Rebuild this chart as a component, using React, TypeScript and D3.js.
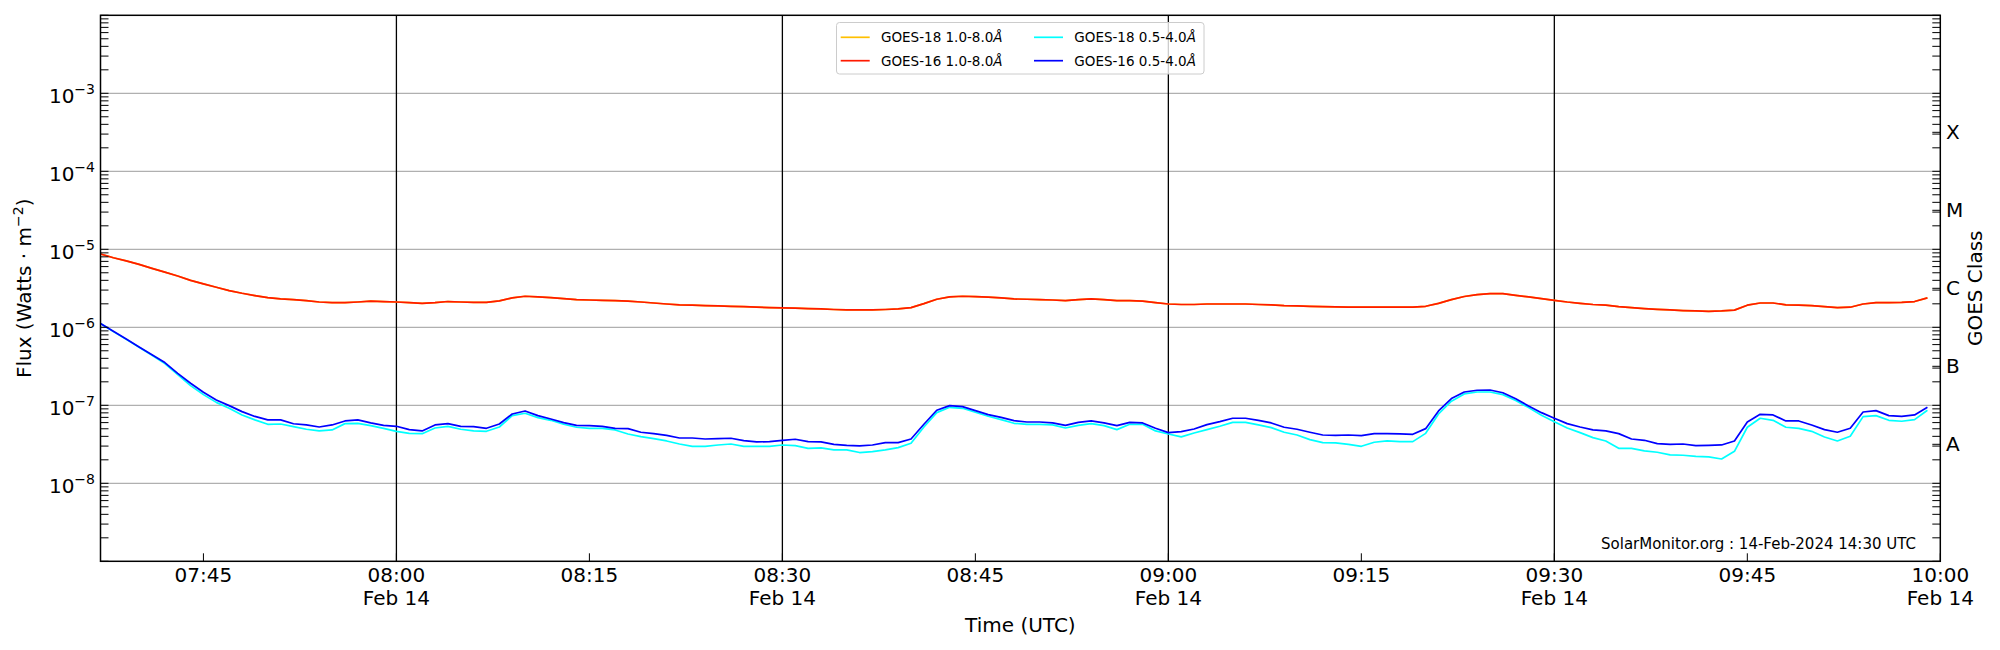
import * as d3 from "d3";

// one reading per minute, starting 07:37 UTC
const startTime = new Date(Date.UTC(2024, 1, 14, 7, 37));
const endTime = new Date(Date.UTC(2024, 1, 14, 10, 0));

const goes16Long = [
  8.7e-6, 7.8e-6, 7.1e-6, 6.4e-6, 5.7e-6, 5.1e-6, 4.55e-6, 4.0e-6, 3.6e-6, 3.26e-6,
  2.95e-6, 2.73e-6, 2.55e-6, 2.4e-6, 2.31e-6, 2.26e-6, 2.2e-6, 2.11e-6, 2.07e-6, 2.07e-6,
  2.11e-6, 2.16e-6, 2.14e-6, 2.11e-6, 2.07e-6, 2.03e-6, 2.07e-6, 2.14e-6, 2.11e-6, 2.09e-6,
  2.09e-6, 2.18e-6, 2.38e-6, 2.5e-6, 2.45e-6, 2.4e-6, 2.33e-6, 2.26e-6, 2.24e-6, 2.22e-6,
  2.2e-6, 2.16e-6, 2.11e-6, 2.05e-6, 1.99e-6, 1.94e-6, 1.92e-6, 1.9e-6, 1.88e-6, 1.86e-6,
  1.84e-6, 1.81e-6, 1.79e-6, 1.77e-6, 1.76e-6, 1.74e-6, 1.72e-6, 1.69e-6, 1.67e-6, 1.67e-6,
  1.67e-6, 1.69e-6, 1.72e-6, 1.79e-6, 2.01e-6, 2.29e-6, 2.45e-6, 2.5e-6, 2.48e-6, 2.43e-6,
  2.38e-6, 2.31e-6, 2.29e-6, 2.26e-6, 2.24e-6, 2.2e-6, 2.26e-6, 2.31e-6, 2.26e-6, 2.2e-6,
  2.2e-6, 2.16e-6, 2.07e-6, 1.99e-6, 1.96e-6, 1.96e-6, 1.99e-6, 1.99e-6, 1.99e-6, 1.99e-6,
  1.96e-6, 1.94e-6, 1.9e-6, 1.88e-6, 1.86e-6, 1.84e-6, 1.83e-6, 1.81e-6, 1.81e-6, 1.81e-6,
  1.81e-6, 1.81e-6, 1.81e-6, 1.86e-6, 2.03e-6, 2.26e-6, 2.48e-6, 2.62e-6, 2.7e-6, 2.7e-6,
  2.57e-6, 2.45e-6, 2.33e-6, 2.22e-6, 2.11e-6, 2.03e-6, 1.96e-6, 1.92e-6, 1.84e-6, 1.79e-6,
  1.74e-6, 1.7e-6, 1.67e-6, 1.64e-6, 1.62e-6, 1.6e-6, 1.62e-6, 1.66e-6, 1.92e-6, 2.05e-6,
  2.05e-6, 1.94e-6, 1.92e-6, 1.9e-6, 1.84e-6, 1.79e-6, 1.81e-6, 1.99e-6, 2.07e-6, 2.07e-6,
  2.09e-6, 2.14e-6, 2.38e-6,
];

// GOES-18 long channel sits right under the GOES-16 one
const goes18Long = goes16Long;

const goes16Short = [
  1.12e-6, 8.9e-7, 7.1e-7, 5.6e-7, 4.46e-7, 3.53e-7, 2.57e-7, 1.92e-7, 1.47e-7, 1.17e-7,
  9.9e-8, 8.3e-8, 7.2e-8, 6.5e-8, 6.5e-8, 5.8e-8, 5.6e-8, 5.27e-8, 5.6e-8, 6.3e-8,
  6.5e-8, 5.94e-8, 5.54e-8, 5.38e-8, 4.88e-8, 4.69e-8, 5.6e-8, 5.82e-8, 5.38e-8, 5.33e-8,
  5.07e-8, 5.76e-8, 7.74e-8, 8.46e-8, 7.37e-8, 6.68e-8, 6.0e-8, 5.54e-8, 5.49e-8, 5.38e-8,
  5.07e-8, 5.02e-8, 4.51e-8, 4.33e-8, 4.12e-8, 3.81e-8, 3.81e-8, 3.7e-8, 3.74e-8, 3.78e-8,
  3.53e-8, 3.39e-8, 3.42e-8, 3.56e-8, 3.67e-8, 3.42e-8, 3.39e-8, 3.16e-8, 3.07e-8, 3.01e-8,
  3.1e-8, 3.32e-8, 3.32e-8, 3.7e-8, 5.71e-8, 8.63e-8, 9.9e-8, 9.6e-8, 8.55e-8, 7.6e-8,
  7.0e-8, 6.36e-8, 6.11e-8, 6.11e-8, 5.94e-8, 5.54e-8, 6.05e-8, 6.3e-8, 5.94e-8, 5.49e-8,
  6.05e-8, 5.94e-8, 5.07e-8, 4.46e-8, 4.6e-8, 4.97e-8, 5.65e-8, 6.17e-8, 6.82e-8, 6.82e-8,
  6.42e-8, 5.94e-8, 5.23e-8, 4.93e-8, 4.51e-8, 4.16e-8, 4.12e-8, 4.16e-8, 4.08e-8, 4.33e-8,
  4.33e-8, 4.29e-8, 4.25e-8, 5.02e-8, 8.46e-8, 1.22e-7, 1.48e-7, 1.56e-7, 1.57e-7, 1.45e-7,
  1.21e-7, 9.8e-8, 8.05e-8, 6.82e-8, 5.82e-8, 5.27e-8, 4.83e-8, 4.69e-8, 4.33e-8, 3.7e-8,
  3.56e-8, 3.22e-8, 3.16e-8, 3.19e-8, 3.04e-8, 3.07e-8, 3.1e-8, 3.49e-8, 6.11e-8, 7.66e-8,
  7.52e-8, 6.3e-8, 6.3e-8, 5.6e-8, 4.88e-8, 4.51e-8, 5.07e-8, 8.21e-8, 8.55e-8, 7.37e-8,
  7.23e-8, 7.52e-8, 9.43e-8,
];

const goes18Short = [
  1.12e-6, 8.8e-7, 7.0e-7, 5.54e-7, 4.37e-7, 3.42e-7, 2.48e-7, 1.79e-7, 1.37e-7, 1.09e-7,
  9.15e-8, 7.52e-8, 6.5e-8, 5.71e-8, 5.76e-8, 5.33e-8, 4.93e-8, 4.69e-8, 4.83e-8, 5.82e-8,
  5.88e-8, 5.49e-8, 5.07e-8, 4.64e-8, 4.37e-8, 4.33e-8, 5.12e-8, 5.38e-8, 4.93e-8, 4.69e-8,
  4.64e-8, 5.27e-8, 7.37e-8, 7.9e-8, 6.95e-8, 6.42e-8, 5.71e-8, 5.23e-8, 5.07e-8, 5.07e-8,
  4.83e-8, 4.29e-8, 3.97e-8, 3.74e-8, 3.49e-8, 3.19e-8, 2.98e-8, 2.98e-8, 3.1e-8, 3.19e-8,
  2.98e-8, 2.98e-8, 2.98e-8, 3.1e-8, 3.04e-8, 2.81e-8, 2.84e-8, 2.68e-8, 2.68e-8, 2.48e-8,
  2.55e-8, 2.68e-8, 2.87e-8, 3.26e-8, 5.27e-8, 8.05e-8, 9.43e-8, 9.15e-8, 8.13e-8, 7.23e-8,
  6.55e-8, 5.88e-8, 5.71e-8, 5.71e-8, 5.6e-8, 5.12e-8, 5.54e-8, 5.82e-8, 5.49e-8, 4.88e-8,
  5.71e-8, 5.71e-8, 4.69e-8, 4.29e-8, 3.93e-8, 4.42e-8, 4.88e-8, 5.38e-8, 6.05e-8, 6.05e-8,
  5.6e-8, 5.17e-8, 4.51e-8, 4.16e-8, 3.63e-8, 3.32e-8, 3.29e-8, 3.16e-8, 2.98e-8, 3.36e-8,
  3.49e-8, 3.42e-8, 3.42e-8, 4.37e-8, 7.74e-8, 1.13e-7, 1.4e-7, 1.48e-7, 1.48e-7, 1.37e-7,
  1.15e-7, 9.34e-8, 7.44e-8, 6.17e-8, 5.12e-8, 4.46e-8, 3.85e-8, 3.49e-8, 2.81e-8, 2.81e-8,
  2.6e-8, 2.5e-8, 2.31e-8, 2.29e-8, 2.22e-8, 2.18e-8, 2.05e-8, 2.57e-8, 5.23e-8, 6.82e-8,
  6.42e-8, 5.23e-8, 5.07e-8, 4.64e-8, 3.93e-8, 3.49e-8, 4.01e-8, 7.16e-8, 7.37e-8, 6.42e-8,
  6.24e-8, 6.55e-8, 8.63e-8,
];

const xTickLabels = ["07:45", "08:00", "08:15", "08:30", "08:45", "09:00", "09:15", "09:30", "09:45", "10:00"];
const dayLines = ["08:00", "08:30", "09:00", "09:30"];
const yTickExponents = [-8, -7, -6, -5, -4, -3];
const goesClasses = ["A", "B", "C", "M", "X"];

const series = [
  { name: "GOES-18 1.0-8.0", values: goes18Long, color: "#ffc000" },
  { name: "GOES-18 0.5-4.0", values: goes18Short, color: "#00ffff" },
  { name: "GOES-16 1.0-8.0", values: goes16Long, color: "#ff1a00" },
  { name: "GOES-16 0.5-4.0", values: goes16Short, color: "#0000ff" },
];
const legendOrder = [0, 1, 2, 3]; // column-major: 18 long, 16 long | 18 short, 16 short

const width = 2000;
const height = 650;
const left = 100.5;
const right = 1940.3;
const top = 15.3;
const bottom = 561.3;
const font = "DejaVu Sans, sans-serif";

const atTime = (hhmm: string) => {
  const [h, m] = hhmm.split(":").map(Number);
  return new Date(Date.UTC(2024, 1, 14, h, m));
};

const App = () => {
  const x = d3.scaleUtc([startTime, endTime], [left, right]);
  const y = d3.scaleLog([1e-9, 1e-2], [bottom, top]);
  const time = (i: number) => d3.utcMinute.offset(startTime, i);
  const line = d3.line<number>((d, i) => x(time(i)), (d) => y(d));

  const minors: number[] = [];
  for (let e = -9; e < -2; e++) {
    for (let k = 2; k <= 9; k++) minors.push(k * Math.pow(10, e));
  }
  const decades = d3.range(-9, -1).map((e) => Math.pow(10, e));
  const classPos = goesClasses.map((c, i) => Math.pow(10, -7.5 + i));

  return (
    <svg
      width={width}
      height={height}
      style={{ position: "absolute", left: 0, top: 0, background: "white" }}
      fontFamily={font}
    >
      <rect width={width} height={height} fill="white" />
      {/* horizontal grid */}
      <g stroke="#b0b0b0" strokeWidth={1.3}>
        {yTickExponents.map((e) => (
          <line key={e} x1={left} x2={right} y1={y(Math.pow(10, e))} y2={y(Math.pow(10, e))} />
        ))}
      </g>
      {/* day / half-hour marker lines */}
      <g stroke="black" strokeWidth={1.3}>
        {dayLines.map((t) => (
          <line key={t} x1={x(atTime(t))} x2={x(atTime(t))} y1={top} y2={bottom} />
        ))}
      </g>

      <g fill="none" strokeWidth={1.7} strokeLinejoin="round">
        {series.map((s) => (
          <path key={s.name} d={line(s.values)!} stroke={s.color} />
        ))}
      </g>

      {/* ticks */}
      <g stroke="black" strokeWidth={1}>
        {decades.concat(minors).map((v, i) => (
          <g key={i}>
            <line x1={left} x2={left + 8} y1={y(v)} y2={y(v)} />
            <line x1={right} x2={right - 8} y1={y(v)} y2={y(v)} />
          </g>
        ))}
        {classPos.map((v, i) => (
          <line key={"c" + i} x1={right} x2={right - 8} y1={y(v)} y2={y(v)} />
        ))}
        {xTickLabels.map((t) => (
          <line key={t} x1={x(atTime(t))} x2={x(atTime(t))} y1={bottom} y2={bottom - 8} />
        ))}
      </g>

      <rect x={left} y={top} width={right - left} height={bottom - top} fill="none" stroke="black" strokeWidth={1.5} />

      {/* y tick labels */}
      <g fontSize={20} textAnchor="end">
        {yTickExponents.map((e) => (
          <text key={e} x={95} y={y(Math.pow(10, e)) + 10}>
            10<tspan dy={-9} fontSize={14}>{"\u2212" + Math.abs(e)}</tspan>
          </text>
        ))}
      </g>

      {/* x tick labels */}
      <g fontSize={20} textAnchor="middle">
        {xTickLabels.map((t) => (
          <text key={t} x={x(atTime(t))} y={582}>
            {t}
            {t.endsWith(":00") || t.endsWith(":30") ? (
              <tspan x={x(atTime(t))} y={605}>Feb 14</tspan>
            ) : null}
          </text>
        ))}
      </g>

      {/* GOES class labels */}
      <g fontSize={20}>
        {goesClasses.map((c, i) => (
          <text key={c} x={1946} y={y(classPos[i]) + 7}>{c}</text>
        ))}
      </g>

      <text fontSize={20} textAnchor="middle" x={(left + right) / 2} y={632}>Time (UTC)</text>
      <text fontSize={20} textAnchor="middle" transform={`translate(31,${(top + bottom) / 2}) rotate(-90)`}>
        Flux (Watts · m<tspan dy={-8} fontSize={14}>{"\u22122"}</tspan><tspan dy={8}>)</tspan>
      </text>
      <text fontSize={20} textAnchor="middle" transform={`translate(1982,${(top + bottom) / 2}) rotate(-90)`}>
        GOES Class
      </text>

      <text fontSize={15} textAnchor="end" x={1916} y={549}>
        SolarMonitor.org : 14-Feb-2024 14:30 UTC
      </text>

      {/* legend */}
      <g>
        <rect x={836.5} y={22.5} width={367.5} height={51.5} rx={3} fill="white" fillOpacity={0.8} stroke="#cccccc" />
        {legendOrder.map((idx, j) => {
          const s = series[idx];
          const col = j < 2 ? 0 : 1;
          const row = j % 2;
          const colX = [840.7, 1034][col];
          const rowY = [37.3, 60.7][row];
          const item = j === 1 ? series[2] : j === 2 ? series[1] : s;
          return (
            <g key={item.name}>
              <line x1={colX} x2={colX + 29} y1={rowY} y2={rowY} stroke={item.color} strokeWidth={1.7} />
              <text x={colX + 40.3} y={rowY + 5} fontSize={13.5}>
                {item.name}
                <tspan fontStyle="italic">Å</tspan>
              </text>
            </g>
          );
        })}
      </g>
    </svg>
  );
};

export default App;
